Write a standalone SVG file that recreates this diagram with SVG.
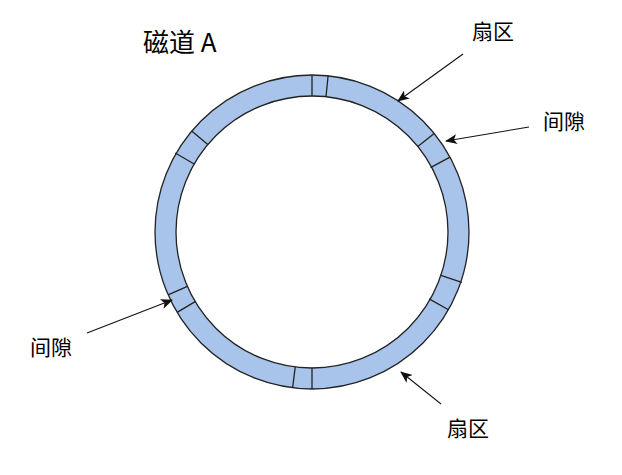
<svg xmlns="http://www.w3.org/2000/svg" width="622" height="475" viewBox="0 0 622 475">
<style>
.ring{fill:#a9c4eb;stroke:#222;stroke-width:1.3;fill-rule:evenodd}
.gap{stroke:#222;stroke-width:1.3;fill:none}
.arr{stroke:#111;stroke-width:1.1;fill:none;marker-end:url(#ah)}
.lbl{font-family:"Noto Sans CJK SC","Microsoft YaHei",sans-serif;font-size:21px;fill:#000;text-anchor:middle}
.title{font-family:"Noto Sans CJK SC","Microsoft YaHei",sans-serif;font-size:26px;fill:#000}
</style>
<defs>
<marker id="ah" markerUnits="userSpaceOnUse" markerWidth="12" markerHeight="10" refX="11" refY="5" orient="auto">
<path d="M0,0 L12,5 L0,10 L3,5 Z" fill="#111"/>
</marker>
</defs>
<rect width="622" height="475" fill="#fff"/>
<g id="track">
<path class="ring" d="M155,232 A157,157 0 1,0 469,232 A157,157 0 1,0 155,232 Z M176,232 A136,136 0 1,0 448,232 A136,136 0 1,0 176,232 Z"/>
</g>
<g id="gaps">
<line class="gap" x1="312" y1="96" x2="312" y2="75"/>
<line class="gap" x1="326" y1="96.7" x2="328.1" y2="75.8"/>
<line class="gap" x1="417.8" y1="146.6" x2="434.2" y2="133.4"/>
<line class="gap" x1="430.5" y1="167.6" x2="450" y2="157.1"/>
<line class="gap" x1="440.9" y1="275.4" x2="461.8" y2="282.4"/>
<line class="gap" x1="429.2" y1="298.9" x2="448.4" y2="309.8"/>
<line class="gap" x1="295.2" y1="367" x2="292.6" y2="387.8"/>
<line class="gap" x1="312" y1="368" x2="312" y2="389"/>
<line class="gap" x1="187.4" y1="286.4" x2="168.1" y2="294.8"/>
<line class="gap" x1="195.2" y1="301.6" x2="177.1" y2="312.4"/>
<line class="gap" x1="207.8" y1="144.6" x2="191.7" y2="131.1"/>
<line class="gap" x1="194.2" y1="164" x2="175.2" y2="153"/>
</g>
<g id="connectors">
<line class="arr" x1="463" y1="54" x2="398" y2="101"/>
<line class="arr" x1="529" y1="127" x2="446" y2="141"/>
<line class="arr" x1="87" y1="333" x2="172" y2="300"/>
<line class="arr" x1="441" y1="404" x2="401" y2="372"/>
</g>
<g id="title"><text class="title" x="143" y="52">磁道 A</text></g>
<g id="label-sector-top"><text class="lbl" x="493" y="39">扇区</text></g>
<g id="label-gap-right"><text class="lbl" x="564" y="129">间隙</text></g>
<g id="label-gap-left"><text class="lbl" x="51" y="355">间隙</text></g>
<g id="label-sector-bottom"><text class="lbl" x="468" y="436">扇区</text></g>
</svg>
